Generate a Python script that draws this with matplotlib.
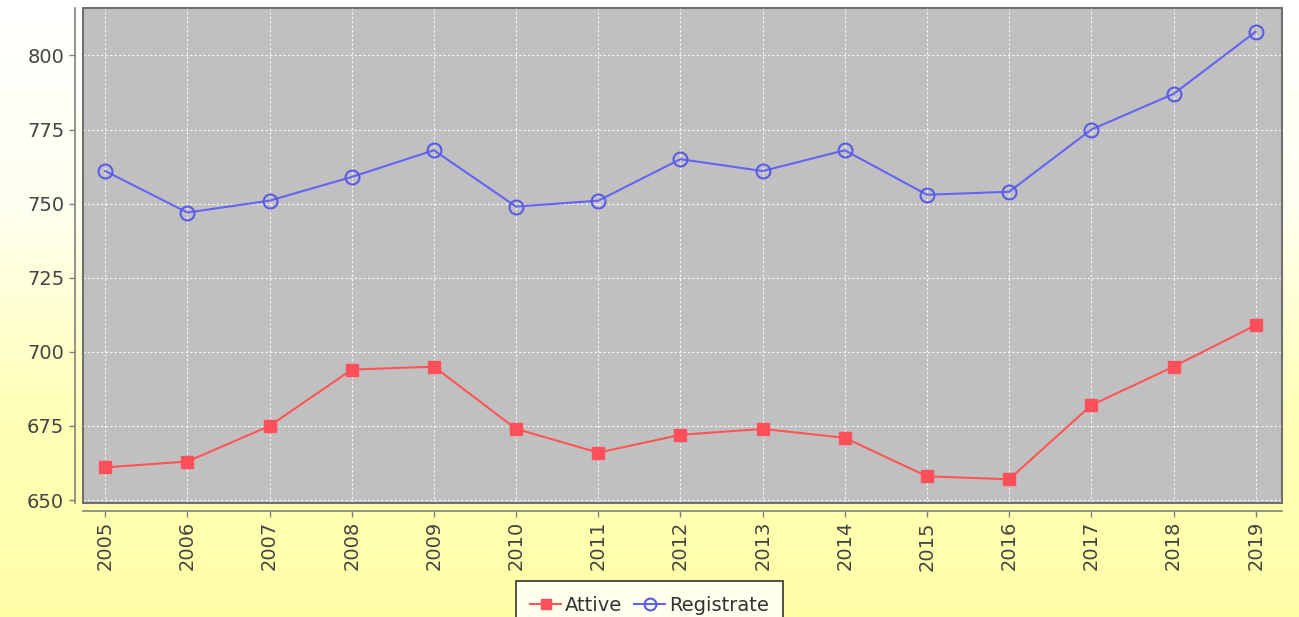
import numpy as np
import matplotlib.pyplot as plt
from matplotlib.patches import Rectangle
from matplotlib.colors import LinearSegmentedColormap

years = ['2005', '2006', '2007', '2008', '2009', '2010', '2011', '2012',
         '2013', '2014', '2015', '2016', '2017', '2018', '2019']
attive = [661, 663, 675, 694, 695, 674, 666, 672, 674, 671, 658, 657, 682, 695, 709]
registrate = [761, 747, 751, 759, 768, 749, 751, 765, 761, 768, 753, 754, 775, 787, 808]

W, H = 1299, 617
fig = plt.figure(figsize=(W / 100, H / 100), dpi=100)

# chart background: white at the top fading into pale yellow
bg = fig.add_axes([0, 0, 1, 1], zorder=-10)
grad = np.linspace(0, 1, 256).reshape(-1, 1)
cmap = LinearSegmentedColormap.from_list('wy', ['#ffffff', '#fffff0', '#ffffb8', '#ffffa8'])
bg.imshow(grad, aspect='auto', cmap=cmap, extent=[0, 1, 0, 1], origin='upper')
bg.set_axis_off()

ax = fig.add_axes([83 / W, (H - 503) / H, 1199 / W, 495 / H])
ax.set_facecolor('#c0c0c0')

x = np.arange(len(years))
ax.plot(x, attive, color='#ff5555', lw=1.5, marker='s', ms=9,
        mfc='#ff4f5a', mec='#ff4f5a', label='Attive', zorder=3)
ax.plot(x, registrate, color='#6464f4', lw=1.5, marker='o', ms=10,
        mfc='none', mec='#5a5ae8', mew=1.5, label='Registrate', zorder=3)

# plot outline
for s in ['top', 'right']:
    ax.spines[s].set_visible(False)
ax.add_patch(Rectangle((0, 0), 1, 1, transform=ax.transAxes, fill=False,
                       ec='#707070', lw=1.5, zorder=5, clip_on=False))
# axis lines sit a few pixels away from the plot
for s in ['left', 'bottom']:
    ax.spines[s].set_position(('outward', 6))
    ax.spines[s].set_color('#808080')
    ax.spines[s].set_linewidth(1.2)

ax.set_xlim(-0.27, 14.32)
ax.set_ylim(649, 816)
ax.set_yticks([650, 675, 700, 725, 750, 775, 800])
ax.set_xticks(x)
ax.set_xticklabels(years)

ax.grid(True, color='white', ls=(0, (2, 2)), lw=0.8, alpha=0.9)
ax.set_axisbelow(True)

ax.tick_params(axis='both', colors='#808080', labelcolor='#444444',
               labelsize=14, length=4, width=1)
ax.tick_params(axis='x', pad=3, labelrotation=90)

# legend hangs off the bottom edge like in the original
leg = fig.legend(loc='upper center', bbox_to_anchor=(0.5, 1 - 581 / H), ncol=2,
                 fontsize=14, frameon=True, fancybox=False, edgecolor='black',
                 handlelength=1.6, handletextpad=0.2, columnspacing=0.6,
                 borderpad=0.75, borderaxespad=0, markerscale=0.85,
                 labelcolor='#333333')
leg.get_frame().set_linewidth(1.2)
leg.get_frame().set_facecolor('white')

fig.savefig('out.png', dpi=100)
